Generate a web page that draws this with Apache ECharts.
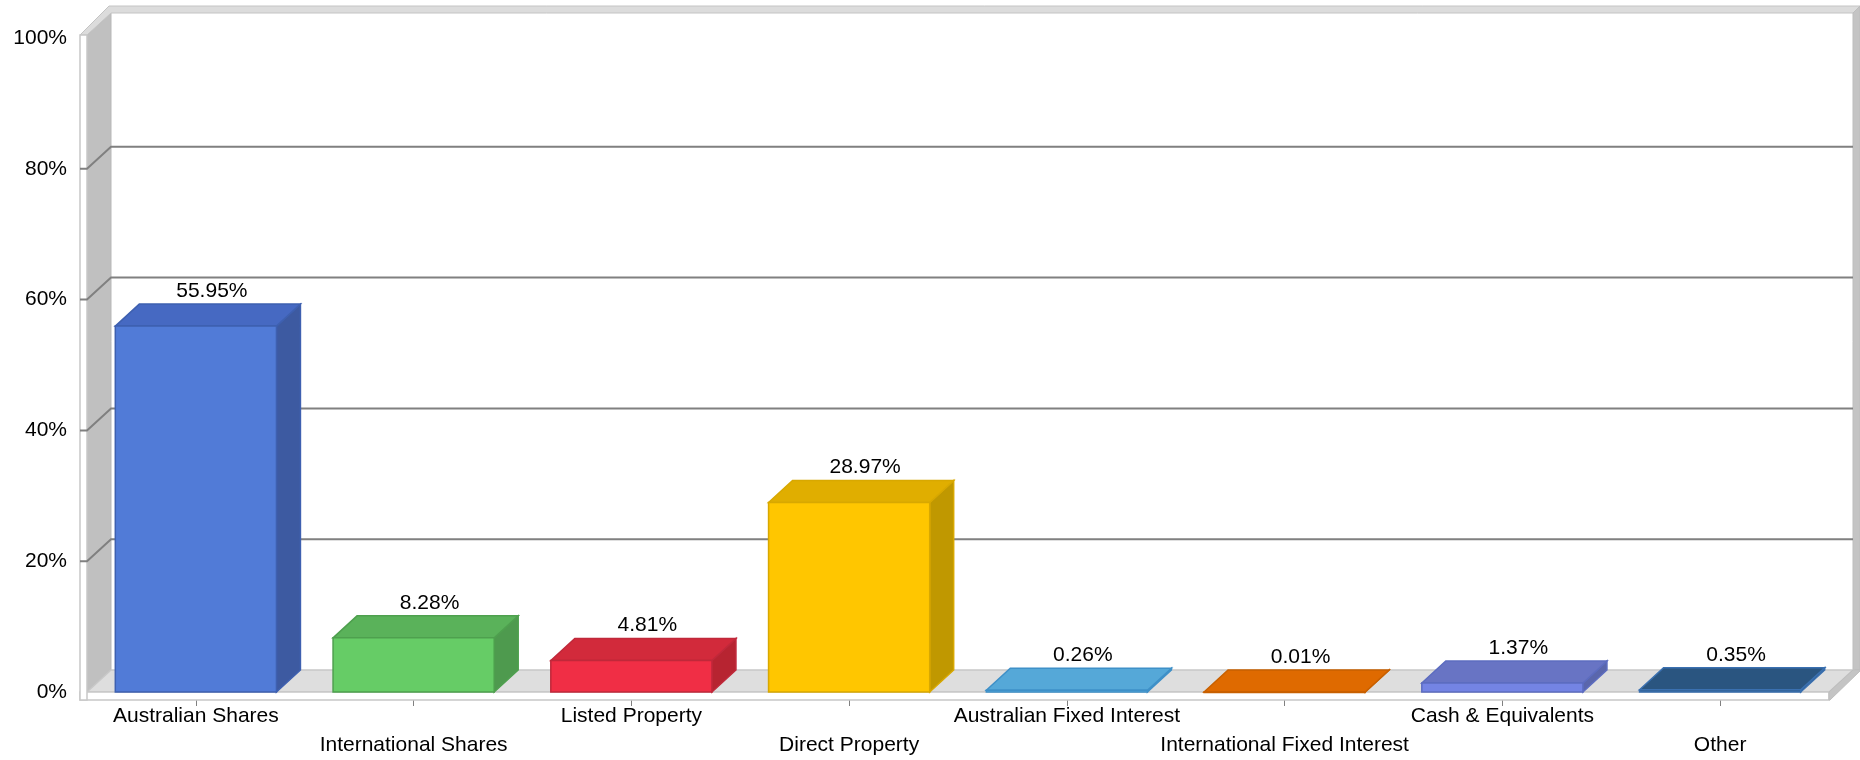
<!DOCTYPE html>
<html><head><meta charset="utf-8">
<script src="https://cdn.jsdelivr.net/npm/echarts@6/dist/echarts.min.js"></script>
<style>html,body{margin:0;padding:0;background:#fff}#c{width:1860px;height:760px}</style>
</head><body><div id="c"></div>
<script>
const categories = ['Australian Shares','International Shares','Listed Property','Direct Property','Australian Fixed Interest','International Fixed Interest','Cash & Equivalents','Other'];
const values = [55.95, 8.28, 4.81, 28.97, 0.26, 0.01, 1.37, 0.35];
const gridValues = [20, 40, 60, 80];

const frontColors = ['#517BD7','#66CC66','#F02E45','#FFC600','#5DB0E0','#E46C00','#7484E4','#2E5C8C'];
const topColors   = ['#4669C2','#5AB25A','#D22A3B','#E0AE00','#55A8D8','#DF6A00','#6874C4','#2A5580'];
const sideColors  = ['#3D5AA1','#4E9A4E','#B72431','#C09800','#4890BC','#C05C00','#5A66AC','#244A70'];
const edgeColors  = ['#3E60B0','#4EA04E','#C0283A','#D8A800','#3E90C8','#C86000','#5C6CC0','#3A70B0'];

const DX = 24, DY = 22, T = 7;
const FONT = '"Liberation Sans", Arial, sans-serif';

function renderWalls(params, api) {
  const cs = params.coordSys;
  const X0 = cs.x, X1 = cs.x + cs.width;
  const Yb = api.coord([0, 0])[1];
  const Yt = api.coord([0, 100])[1] - 3;
  const ch = [];
  // left wall inner face
  ch.push({type:'polygon', shape:{points:[[X0,Yt],[X0+DX,Yt-DY],[X0+DX,Yb-DY],[X0,Yb]]}, style:{fill:'#C0C0C0', stroke:'#B8B8B8', lineWidth:1}});
  // top faces (left + back wall)
  ch.push({type:'polygon', shape:{points:[[X0-T,Yt],[X0,Yt],[X0+DX,Yt-DY],[X1+DX,Yt-DY],[X1+DX+T,Yt-DY-T],[X0+DX-2,Yt-DY-T]]}, style:{fill:'#DCDCDC', stroke:'#C4C4C4', lineWidth:1}});
  // right edge of back wall
  ch.push({type:'polygon', shape:{points:[[X1+DX,Yt-DY],[X1+DX+T,Yt-DY-T],[X1+DX+T,Yb-DY],[X1+DX,Yb-DY]]}, style:{fill:'#C4C4C4', stroke:'#BDBDBD', lineWidth:1}});
  // floor top
  ch.push({type:'polygon', shape:{points:[[X0,Yb],[X0+DX,Yb-DY],[X1+DX,Yb-DY],[X1,Yb]]}, style:{fill:'#DEDEDE', stroke:'#C8C8C8', lineWidth:1.5}});
  // floor front face
  ch.push({type:'rect', shape:{x:X0-T, y:Yb, width:X1-X0+T, height:8}, style:{fill:'#FFFFFF', stroke:'#C8C8C8', lineWidth:1.5}});
  // floor right face
  ch.push({type:'polygon', shape:{points:[[X1,Yb],[X1+DX,Yb-DY],[X1+DX+T,Yb-DY],[X1+DX+T,Yb-DY+1],[X1+1,Yb+8],[X1,Yb+8]]}, style:{fill:'#C4C4C4', stroke:'#BDBDBD', lineWidth:1}});
  // left wall front face
  ch.push({type:'rect', shape:{x:X0-T, y:Yt, width:T, height:Yb+8-Yt}, style:{fill:'#FFFFFF', stroke:'#C8C8C8', lineWidth:1.5}});
  // gridlines
  gridValues.forEach(v => {
    const y = api.coord([0, v])[1];
    ch.push({type:'polyline', shape:{points:[[X0-T,y],[X0,y],[X0+DX,y-DY],[X1+DX,y-DY]]}, style:{stroke:'#808080', lineWidth:2, fill:null}});
  });
  return {type:'group', children:ch};
}

function renderBar(params, api) {
  const i = api.value(0), v = api.value(1);
  const top = api.coord([i, v]);
  const base = api.coord([i, 0]);
  const band = api.size([1, 0])[0];
  const w = band * 0.74;
  const x0 = top[0] - w / 2, x1 = top[0] + w / 2;
  const yt = top[1], yb = base[1];
  const c = params.dataIndex;
  const edge = edgeColors[c];
  return {type:'group', children:[
    {type:'polygon', shape:{points:[[x1,yb],[x1+DX,yb-DY],[x1+DX,yt-DY],[x1,yt]]}, style:{fill:sideColors[c], stroke:edge, lineWidth:1.5}},
    {type:'polygon', shape:{points:[[x0,yt],[x0+DX,yt-DY],[x1+DX,yt-DY],[x1,yt]]}, style:{fill:topColors[c], stroke:edge, lineWidth:1.5}},
    {type:'rect', shape:{x:x0, y:yt, width:w, height:Math.max(yb-yt,0.5)}, style:{fill:frontColors[c], stroke:edge, lineWidth:1.5}},
    {type:'text', style:{text:v.toFixed(2)+'%', x:top[0]+16, y:yt-DY-13, align:'center', verticalAlign:'middle', font:'21px ' + FONT, fill:'#000'}}
  ]};
}

const chart = echarts.init(document.getElementById('c'));
chart.setOption({
  animation: false,
  backgroundColor: '#fff',
  grid: {left: 87, right: 31, top: 38, bottom: 68},
  xAxis: {
    type: 'category', data: categories,
    axisLine: {show: false},
    axisTick: {show: true, alignWithLabel: true, length: 14, lineStyle: {color: '#808080', width: 1}},
    axisLabel: {interval: 0, margin: 10, fontSize: 21, lineHeight: 29, color: '#000', fontFamily: FONT,
      formatter: (v, idx) => idx % 2 ? '\n' + v : v},
    splitLine: {show: false}
  },
  yAxis: {
    type: 'value', min: 0, max: 100, interval: 20,
    axisLine: {show: false}, axisTick: {show: false}, splitLine: {show: false},
    axisLabel: {formatter: '{value}%', fontSize: 21, margin: 20, color: '#000', fontFamily: FONT}
  },
  series: [
    {type: 'custom', renderItem: renderWalls, data: [[0, 0]], z: 1, silent: true},
    {type: 'custom', renderItem: renderBar, data: values.map((v, i) => [i, v]), z: 3, silent: true}
  ]
});
</script></body></html>
